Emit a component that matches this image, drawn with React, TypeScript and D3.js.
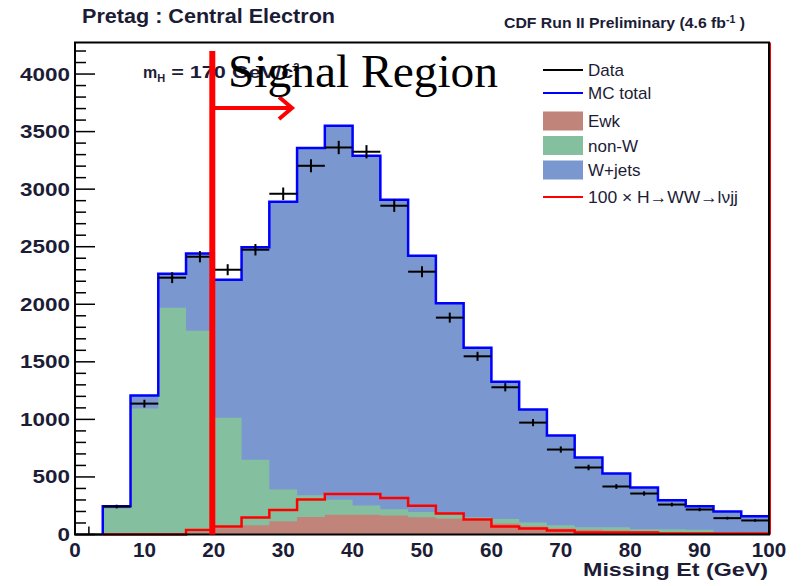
import React from 'react';
import * as d3 from 'd3';

// bin low edges (GeV), 4 GeV wide bins
const binLow = [0, 4, 8, 12, 16, 20, 24, 28, 32, 36, 40, 44, 48, 52, 56, 60, 64, 68, 72, 76, 80, 84, 88, 92, 96];
const binWidth = 4;

// stacked components (events per bin)
const ewk = [0, 0, 0, 5, 20, 55, 80, 115, 152, 172, 172, 165, 150, 140, 120, 95, 70, 52, 42, 35, 28, 20, 17, 12, 10];
const nonW = [0, 225, 1095, 1965, 1750, 960, 570, 276, 189, 130, 80, 55, 46, 40, 30, 40, 35, 28, 20, 27, 17, 25, 25, 8, 5];
const wjets = [0, 20, 112, 295, 670, 1198, 1846, 2500, 3016, 3248, 3038, 2688, 2226, 1828, 1473, 1193, 980, 779, 606, 467, 363, 253, 204, 180, 144];
const dataCounts = [0, 243, 1137, 2231, 2413, 2300, 2474, 2960, 3203, 3362, 3325, 2856, 2283, 1884, 1548, 1279, 972, 738, 582, 417, 356, 260, 217, 142, 122];
const higgs100 = [0, 0, 0, 0, 40, 70, 148, 212, 304, 352, 352, 318, 250, 182, 130, 69, 52, 35, 17, 17, 17, 9, 9, 9, 9];

const yTicks = [0, 500, 1000, 1500, 2000, 2500, 3000, 3500, 4000];
const xTicks = [0, 10, 20, 30, 40, 50, 60, 70, 80, 90, 100];

const legendLines = [
  { label: 'Data', color: '#000000' },
  { label: 'MC total', color: '#0000ff' },
];
const legendBoxes = [
  { label: 'Ewk', color: '#c0847a' },
  { label: 'non-W', color: '#84c0a0' },
  { label: 'W+jets', color: '#7a98cf' },
];

const textColor = '#1c1c36';

const App = () => {
  const width = 801, height = 586;
  const left = 75, right = 769, top = 42.5, bottom = 534.5;

  const x = d3.scaleLinear().domain([0, 100]).range([left, right]);
  const y = d3.scaleLinear().domain([0, 4274]).range([bottom, top]);

  const greenTop = ewk.map((v, i) => v + nonW[i]);
  const total = greenTop.map((v, i) => v + wjets[i]);

  const stepPts = (vals: number[], from = 0) => {
    const pts: [number, number][] = [];
    for (let i = from; i < vals.length; i++) pts.push([binLow[i], vals[i]]);
    pts.push([binLow[vals.length - 1] + binWidth, vals[vals.length - 1]]);
    return pts;
  };

  const area = d3.area<[number, number]>()
    .x(d => x(d[0]))
    .y0(y(0))
    .y1(d => y(d[1]))
    .curve(d3.curveStepAfter);

  const line = d3.line<[number, number]>()
    .x(d => x(d[0]))
    .y(d => y(d[1]))
    .curve(d3.curveStepAfter);

  const linePts = (vals: number[]) => [[4, 0] as [number, number], ...stepPts(vals, 1)];

  const minorY = d3.range(0, 4274, 100);
  const minorX = d3.range(0, 101, 2);

  return (
    <svg width={width} height={height} style={{ position: 'absolute', left: 0, top: 0, background: '#fff' }}
      fontFamily="'Liberation Sans', Arial, sans-serif">
      {/* x ticks (inside, hidden under fills) */}
      {minorX.map(t => (
        <line key={'mx' + t} x1={x(t)} x2={x(t)} y1={bottom} y2={bottom - (t % 10 === 0 ? 16 : 8)} stroke="#000" strokeWidth={1.5} />
      ))}

      {/* stacked fills */}
      <path d={area(stepPts(total)) || ''} fill="#7a98cf" />
      <path d={area(stepPts(greenTop)) || ''} fill="#84c0a0" />
      <path d={area(stepPts(ewk)) || ''} fill="#c0847a" />

      {/* Higgs x100 */}
      <path d={line(linePts(higgs100)) || ''} fill="none" stroke="#ff0000" strokeWidth={2.5} />
      {/* MC total */}
      <path d={line(linePts(total)) || ''} fill="none" stroke="#0000ff" strokeWidth={2.5} />

      {/* data points */}
      {dataCounts.map((v, i) => v > 0 ? (
        <g key={'d' + i} stroke="#000" strokeWidth={2}>
          <line x1={x(binLow[i])} x2={x(binLow[i] + binWidth)} y1={y(v)} y2={y(v)} />
          <line x1={x(binLow[i] + binWidth / 2)} x2={x(binLow[i] + binWidth / 2)} y1={y(v - Math.sqrt(v))} y2={y(v + Math.sqrt(v))} />
        </g>
      ) : null)}
      <line x1={x(0)} x2={x(4)} y1={bottom} y2={bottom} stroke="#000" strokeWidth={2} />

      {/* frame */}
      <rect x={left} y={top} width={right - left} height={bottom - top} fill="none" stroke="#000" strokeWidth={2} />
      <line x1={right + 1.5} x2={right + 1.5} y1={top} y2={bottom} stroke="#ff0000" strokeWidth={1} />

      {/* y ticks */}
      {minorY.map(t => (
        <line key={'my' + t} x1={left} x2={left + (t % 500 === 0 ? 20 : 11)} y1={y(t)} y2={y(t)} stroke="#000" strokeWidth={1.5} />
      ))}
      {yTicks.map(t => (
        <text key={'yl' + t} x={70} y={y(t) + 6.5} textAnchor="end" fontSize={18} fontWeight="bold" fill={textColor}
          textLength={String(t).length * 12.5} lengthAdjust="spacingAndGlyphs">{t}</text>
      ))}
      {xTicks.map(t => (
        <text key={'xl' + t} x={x(t)} y={557} textAnchor="middle" fontSize={19.5} fontWeight="bold" fill={textColor}
          textLength={String(t).length * 11.5} lengthAdjust="spacingAndGlyphs">{t}</text>
      ))}
      <text x={768} y={576} textAnchor="end" fontSize={19} fontWeight="bold" fill={textColor}
        textLength={185} lengthAdjust="spacingAndGlyphs">Missing Et (GeV)</text>

      {/* titles */}
      <text x={82} y={23} fontSize={19.5} fontWeight="bold" fill={textColor} textLength={253} lengthAdjust="spacingAndGlyphs">Pretag : Central Electron</text>
      <text x={504} y={28} fontSize={15} fontWeight="bold" fill={textColor} textLength={241} lengthAdjust="spacingAndGlyphs">
        CDF Run II Preliminary (4.6 fb<tspan dy={-5} fontSize={10}>-1</tspan><tspan dy={5}> )</tspan>
      </text>
      <text x={143} y={78} fontSize={16} fontWeight="bold" fill={textColor}>
        m<tspan dy={4} fontSize={11}>H</tspan><tspan dy={-4} textLength={128} lengthAdjust="spacingAndGlyphs"> = 170 GeV/c</tspan><tspan dy={-7} fontSize={11}>2</tspan>
      </text>

      {/* legend */}
      <g fontSize={17} fill={textColor}>
        {legendLines.map((d, i) => (
          <g key={d.label} transform={`translate(0, ${70 + i * 23})`}>
            <line x1={543} x2={583} y1={0} y2={0} stroke={d.color} strokeWidth={2} />
            <text x={588} y={6}>{d.label}</text>
          </g>
        ))}
        {legendBoxes.map((d, i) => (
          <g key={d.label} transform={`translate(0, ${121 + i * 24.5})`}>
            <rect x={543} y={-9.5} width={40} height={19} fill={d.color} />
            <text x={588} y={6}>{d.label}</text>
          </g>
        ))}
        <g transform="translate(0, 197)">
          <line x1={543} x2={583} y1={0} y2={0} stroke="#ff0000" strokeWidth={2} />
          <text x={588} y={6} textLength={150} lengthAdjust="spacingAndGlyphs">100 × H→WW→lνjj</text>
        </g>
      </g>

      {/* signal region overlay */}
      <line x1={x(20) - 1.5} x2={x(20) - 1.5} y1={51} y2={bottom} stroke="#ff0000" strokeWidth={6} />
      <line x1={x(20) - 1.5} x2={291} y1={108} y2={108} stroke="#ff0000" strokeWidth={4} />
      <polyline points="279,97 292,108 279,119" fill="none" stroke="#ff0000" strokeWidth={4} />
      <text x={228} y={87} fontFamily="'Liberation Serif', 'Times New Roman', serif" fontSize={47} fill="#000"
        textLength={270} lengthAdjust="spacingAndGlyphs">Signal Region</text>
    </svg>
  );
};

export default App;
